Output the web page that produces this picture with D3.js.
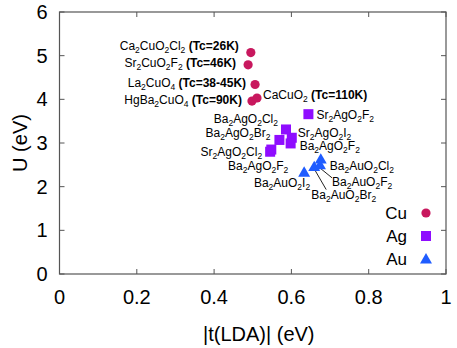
<!DOCTYPE html>
<html>
<head>
<meta charset="utf-8">
<script src="https://cdn.jsdelivr.net/npm/d3@7"></script>
<style>
body { margin:0; background:#fff; }
svg text { font-family: "Liberation Sans", Arial, sans-serif; fill:#000; }
</style>
</head>
<body>
<svg id="chart" width="457" height="348"></svg>
<script>
// values
const cuNames = ['Ca2CuO2Cl2', 'Sr2CuO2F2', 'La2CuO4', 'HgBa2CuO4', 'CaCuO2']
const cuTc = ['26K', '46K', '38-45K', '90K', '110K']
const cuT = [0.495, 0.488, 0.506, 0.498, 0.511]
const cuU = [5.07, 4.79, 4.34, 3.96, 4.03]

const agNames = ['Sr2AgO2F2', 'Ba2AgO2Cl2', 'Ba2AgO2Br2', 'Sr2AgO2I2', 'Ba2AgO2F2', 'Sr2AgO2Cl2', 'Ba2AgO2F2']
const agT = [0.644, 0.586, 0.569, 0.601, 0.598, 0.545, 0.548]
const agU = [3.66, 3.31, 3.07, 3.12, 2.99, 2.80, 2.85]

const auNames = ['Ba2AuO2I2', 'Ba2AuO2Br2', 'Ba2AuO2F2', 'Ba2AuO2Cl2']
const auT = [0.633, 0.659, 0.674, 0.676]
const auU = [2.33, 2.46, 2.50, 2.63]

const xTicks = [0, 0.2, 0.4, 0.6, 0.8, 1]
const yTicks = [0, 1, 2, 3, 4, 5, 6]
const seriesNames = ['Cu', 'Ag', 'Au']

// label placement (pixel offsets from each point)
const cuLab = [[-12, -7, 'end'], [-12, -2, 'end'], [-9, -2, 'end'], [-10, -1, 'end'], [6, -3, 'start']]
const agLab = [[8, 1, 'start'], [-8, -11, 'end'], [-9, -7, 'end'], [6, -5, 'start'], [9, 2, 'start'], [-8, 0, 'end'], [17, 16, 'end']]
const auLab = [[6, 10.5, 'end', null], [-3, 28, 'start', [1, 4, 12, 23]], [12, 17, 'start', [1, 4, 12, 13]], [9, 7, 'start', null]]

const colors = {Cu: '#c8185e', Ag: '#8f0cff', Au: '#1f5cff'}

const svg = d3.select('#chart')
const margin = {top: 12, right: 11, bottom: 74, left: 59.5}
const W = 457, H = 348

let x = d3.scaleLinear().domain([0, 1]).range([margin.left, W - margin.right])
let y = d3.scaleLinear().domain([0, 6]).range([H - margin.bottom, margin.top])

const frame = '#555'
const tl = 5

// ticks, inward and mirrored
const g = svg.append('g')
xTicks.forEach(t => {
	g.append('line').attr('x1', x(t)).attr('x2', x(t)).attr('y1', y(0)).attr('y2', y(0) - tl).attr('stroke', frame)
	g.append('line').attr('x1', x(t)).attr('x2', x(t)).attr('y1', y(6)).attr('y2', y(6) + tl).attr('stroke', frame)
	g.append('text').attr('x', x(t)).attr('y', y(0) + 30).attr('text-anchor', 'middle')
	.style('font-size', '20px').text(t)
})
yTicks.forEach(t => {
	g.append('line').attr('x1', x(0)).attr('x2', x(0) + tl).attr('y1', y(t)).attr('y2', y(t)).attr('stroke', frame)
	g.append('line').attr('x1', x(1)).attr('x2', x(1) - tl).attr('y1', y(t)).attr('y2', y(t)).attr('stroke', frame)
	g.append('text').attr('x', x(0) - 12).attr('y', y(t) + 7).attr('text-anchor', 'end')
	.style('font-size', '20px').text(t)
})

svg.append('rect')
.attr('x', x(0)).attr('y', y(6))
.attr('width', x(1) - x(0)).attr('height', y(0) - y(6))
.attr('fill', 'none').attr('stroke', frame).attr('stroke-width', 1.2)

svg.append('text')
.attr('x', (x(0) + x(1)) / 2 + 6).attr('y', H - 7)
.attr('text-anchor', 'middle').style('font-size', '20px')
.text('|t(LDA)| (eV)')

svg.append('text')
.attr('transform', `translate(27,${(y(0) + y(6)) / 2}) rotate(-90)`)
.attr('text-anchor', 'middle').style('font-size', '20px')
.text('U (eV)')

// chemical formula with subscripted digits
const writeFormula = (txt, name, tc) => {
	let parts = name.match(/[A-Za-z]+|\d+/g)
	let sub = false
	parts.forEach(p => {
		let isNum = /\d/.test(p)
		let ts = txt.append('tspan').text(p)
		if (isNum) {
			ts.style('font-size', '8.5px').attr('dy', sub ? 0 : 3)
			sub = true
		} else if (sub) {
			ts.attr('dy', -3)
			sub = false
		}
	})
	if (tc) {
		txt.append('tspan').attr('dy', sub ? -3 : 0).text(' ')
		txt.append('tspan').style('font-weight', 'bold').text('(Tc=' + tc + ')')
	}
}

const labelAll = (names, ts, us, lab, tcs) => {
	names.forEach((n, i) => {
		let px = x(ts[i]), py = y(us[i])
		let l = lab[i]
		if (l[3]) {
			svg.append('line')
			.attr('x1', px + l[3][0]).attr('y1', py + l[3][1])
			.attr('x2', px + l[3][2]).attr('y2', py + l[3][3])
			.attr('stroke', '#222').attr('stroke-width', 1)
		}
		let txt = svg.append('text')
		.attr('x', px + l[0]).attr('y', py + l[1] + 4.2)
		.attr('text-anchor', l[2])
		.style('font-size', '12px')
		writeFormula(txt, n, tcs ? tcs[i] : null)
	})
}

labelAll(cuNames, cuT, cuU, cuLab, cuTc)
labelAll(agNames, agT, agU, agLab, null)
labelAll(auNames, auT, auU, auLab, null)

// markers
const tri = d3.symbol().type(d3.symbolTriangle).size(62)

svg.append('g').selectAll('circle')
.data(d3.zip(cuT, cuU))
.enter()
.append('circle')
.attr('cx', d => x(d[0])).attr('cy', d => y(d[1]))
.attr('r', 4.6)
.attr('fill', colors.Cu)

svg.append('g').selectAll('rect')
.data(d3.zip(agT, agU))
.enter()
.append('rect')
.attr('x', d => x(d[0]) - 5).attr('y', d => y(d[1]) - 5)
.attr('width', 10).attr('height', 10)
.attr('fill', colors.Ag)

svg.append('g').selectAll('path')
.data(d3.zip(auT, auU))
.enter()
.append('path')
.attr('d', tri)
.attr('transform', d => `translate(${x(d[0])},${y(d[1]) + 1})`)
.attr('fill', colors.Au)

// legend
const leg = svg.append('g')
seriesNames.forEach((s, i) => {
	let ly = 213 + i * 23
	leg.append('text').attr('x', 407).attr('y', ly + 6)
	.attr('text-anchor', 'end').style('font-size', '17px').text(s)
	if (s === 'Cu') {
		leg.append('circle').attr('cx', 426).attr('cy', ly).attr('r', 4.6).attr('fill', colors.Cu)
	} else if (s === 'Ag') {
		leg.append('rect').attr('x', 421).attr('y', ly - 5).attr('width', 10).attr('height', 10).attr('fill', colors.Ag)
	} else {
		leg.append('path').attr('d', tri).attr('transform', `translate(426,${ly + 1})`).attr('fill', colors.Au)
	}
})
</script>
</body>
</html>
